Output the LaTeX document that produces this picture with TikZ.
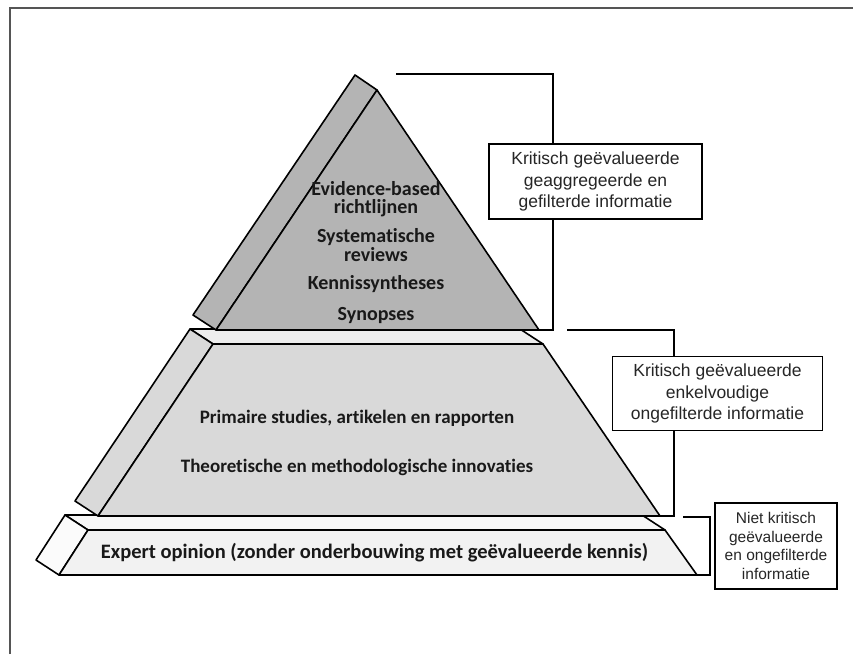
\documentclass[tikz,border=0pt]{standalone}
\usepackage{fontspec}
\setmainfont{Carlito}[Ligatures={NoCommon,NoRare,NoContextual}]
\newfontfamily\boxfont{Liberation Sans}
\definecolor{topgray}{HTML}{B4B4B4}
\definecolor{midgray}{HTML}{D9D9D9}
\definecolor{midledge}{HTML}{EDEDED}
\definecolor{botfront}{HTML}{F2F2F2}
\definecolor{botledge}{HTML}{F7F7F7}
\definecolor{botside}{HTML}{FBFBFB}
\definecolor{framegray}{HTML}{555555}
\tikzset{
  face/.style={draw=black, line width=1.6pt, line join=round},
  bracket/.style={draw=black, line width=1.5pt},
  infobox/.style={draw=black, line width=1.3pt, fill=white, font=\boxfont\fontsize{17.5}{21.5}\selectfont, align=center, inner sep=0pt, text=black!85},
  pyrtext/.style={font=\bfseries\fontsize{20}{18.5}\selectfont, align=center, inner sep=0pt, text=black!90},
  midtext/.style={pyrtext, font=\bfseries\fontsize{19}{18.5}\selectfont},
  bottext/.style={pyrtext, font=\bfseries\fontsize{20.5}{18.5}\selectfont}
}
\begin{document}
\begin{tikzpicture}[x=1pt,y=-1pt]
\useasboundingbox (0,0) rectangle (853,654);
% frame
\draw[framegray, line width=1.3pt] (10,654) -- (10,8) -- (853,8);

% ----- bottom tier -----
\path[face, fill=botledge] (88,530) -- (65,515) -- (642,515) -- (665,530) -- cycle;
\path[face, fill=botside] (65,515) -- (88,530) -- (59,575) -- (36,560) -- cycle;
\path[face, fill=botfront] (88,530) -- (665,530) -- (697,575) -- (59,575) -- cycle;

% ----- middle tier -----
\path[face, fill=midledge] (213,344) -- (190,329) -- (520,329) -- (543,344) -- cycle;
\path[face, fill=midgray] (190,329) -- (213,344) -- (98,516) -- (75,501) -- cycle;
\path[face, fill=midgray] (213,344) -- (543,344) -- (660,516) -- (98,516) -- cycle;

% ----- top tier -----
\path[face, fill=topgray] (355,75) -- (377,90) -- (216,330) -- (193,315) -- cycle;
\path[face, fill=topgray] (377,90) -- (539,330) -- (216,330) -- cycle;

% texts in pyramid
\node[pyrtext] (ebr) at (376,199) {Evidence-based\\richtlijnen};
\node[pyrtext] (sr) at (376,245) {Systematische\\reviews};
\node[pyrtext] (ks) at (376,284) {Kennissyntheses};
\node[pyrtext] (syn) at (376,316) {Synopses};
\node[midtext] (psa) at (357,418) {Primaire studies, artikelen en rapporten};
\node[midtext] (tmi) at (357,467) {Theoretische en methodologische innovaties};
\node[bottext] (exp) at (374.5,553) {Expert opinion (zonder onderbouwing met geëvalueerde kennis)};

% info boxes
\node[infobox, minimum width=213pt, minimum height=75pt] (box1) at (595.5,181.5)
  {Kritisch geëvalueerde\\geaggregeerde en\\gefilterde informatie};
\node[infobox, minimum width=210pt, minimum height=74pt] (box2) at (717.5,393.7)
  {Kritisch geëvalueerde\\enkelvoudige\\ongefilterde informatie};
\node[infobox, minimum width=122pt, minimum height=86pt, font=\boxfont\fontsize{15.5}{18.7}\selectfont] (box3) at (776,546)
  {Niet kritisch\\geëvalueerde\\en ongefilterde\\informatie};

% brackets
\coordinate (b1s) at (396,74);
\coordinate (b1v) at (553,74);
\coordinate (b1e) at (539,330);
\draw[bracket] (b1s) -- (b1v) -- (b1v |- box1.north);
\draw[bracket] (b1v |- box1.south) -- (b1v |- b1e) -- (b1e);

\coordinate (b2s) at (567,330);
\coordinate (b2v) at (674,330);
\coordinate (b2e) at (660,516);
\draw[bracket] (b2s) -- (b2v) -- (b2v |- box2.north);
\draw[bracket] (b2v |- box2.south) -- (b2v |- b2e) -- (b2e);

\coordinate (b3s) at (683,517);
\coordinate (b3v) at (710,517);
\coordinate (b3e) at (697,575);
\draw[bracket] (b3s) -- (b3v) -- (b3v |- b3e) -- (b3e);
\end{tikzpicture}
\end{document}
